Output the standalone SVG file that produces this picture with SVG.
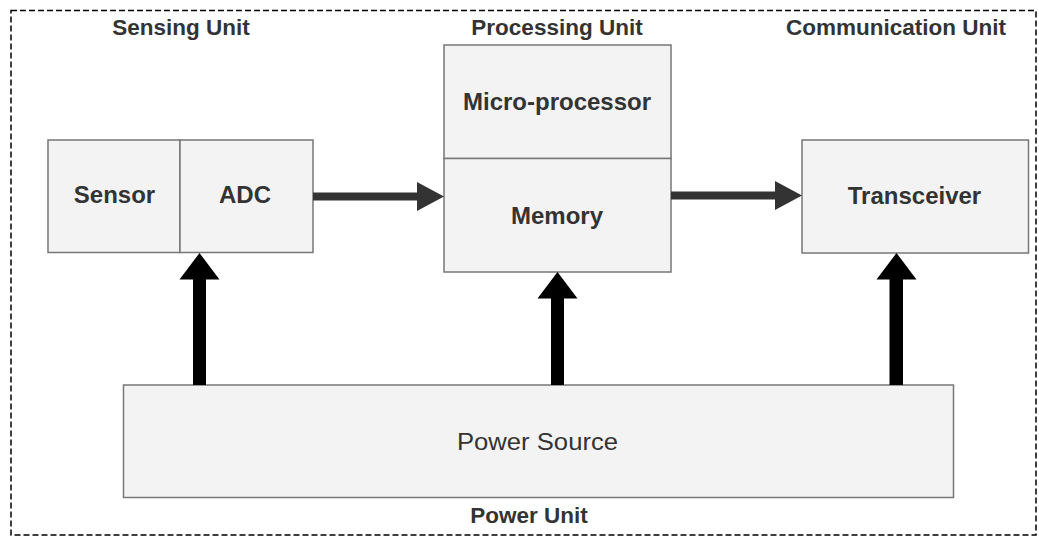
<svg xmlns="http://www.w3.org/2000/svg" width="1039" height="538" viewBox="0 0 1039 538">
  <style>
    .frame { fill: none; stroke: #000; stroke-width: 1.5; stroke-dasharray: 6 3; }
    .box { fill: #f3f3f3; stroke: #777; stroke-width: 1.5; }
    .lbl { font-family: "Liberation Sans", Arial, Helvetica, sans-serif; fill: #333; text-anchor: middle; }
    .node { font-size: 24px; font-weight: bold; }
    .unit { font-size: 22.5px; font-weight: bold; }
    .plain { font-size: 24px; }
    .flow { fill: #333; }
    .power { fill: #000; }
  </style>

  <!-- dashed outline around the whole system -->
  <rect class="frame" x="11" y="10.5" width="1025" height="524.5"/>

  <!-- unit captions -->
  <g id="captions">
    <text class="lbl unit" x="181" y="35">Sensing Unit</text>
    <text class="lbl unit" x="557" y="35">Processing Unit</text>
    <text class="lbl unit" x="896" y="35">Communication Unit</text>
    <text class="lbl unit" x="529" y="523">Power Unit</text>
  </g>

  <g id="sensor">
    <rect class="box" x="48" y="140" width="132" height="112.5"/>
    <text class="lbl node" x="114.5" y="203">Sensor</text>
  </g>
  <g id="adc">
    <rect class="box" x="180" y="140" width="133" height="112.5"/>
    <text class="lbl node" x="245" y="203">ADC</text>
  </g>

  <g id="microprocessor">
    <rect class="box" x="444" y="45" width="227" height="113.5"/>
    <text class="lbl node" x="557" y="110">Micro-processor</text>
  </g>
  <g id="memory">
    <rect class="box" x="444" y="158.5" width="227" height="113.5"/>
    <text class="lbl node" x="557" y="223.5">Memory</text>
  </g>

  <g id="transceiver">
    <rect class="box" x="802" y="140" width="226.5" height="113"/>
    <text class="lbl node" x="914.5" y="203.5">Transceiver</text>
  </g>

  <g id="power-source">
    <rect class="box" x="123.5" y="385" width="830" height="112.5"/>
    <text class="lbl plain" x="537.5" y="449.5" textLength="161" lengthAdjust="spacingAndGlyphs">Power Source</text>
  </g>

  <!-- block arrows -->
  <g id="connectors">
    <!-- data path: ADC -> Memory -> Transceiver -->
    <path class="flow" d="M313 192.5 H417 V182 L444 196.5 L417 211 V200.5 H313 Z"/>
    <path class="flow" d="M671 191.5 H775 V181 L802 195.5 L775 210 V199.5 H671 Z"/>
    <!-- supply lines from the power source -->
    <path class="power" d="M193 385 V279.5 H179.5 L199.5 253 L219.5 279.5 H206 V385 Z"/>
    <path class="power" d="M551 385 V298.5 H537.5 L557.5 272 L577.5 298.5 H564 V385 Z"/>
    <path class="power" d="M889.5 385 V279.5 H876.5 L896.5 253 L916.5 279.5 H903 V385 Z"/>
  </g>
</svg>
